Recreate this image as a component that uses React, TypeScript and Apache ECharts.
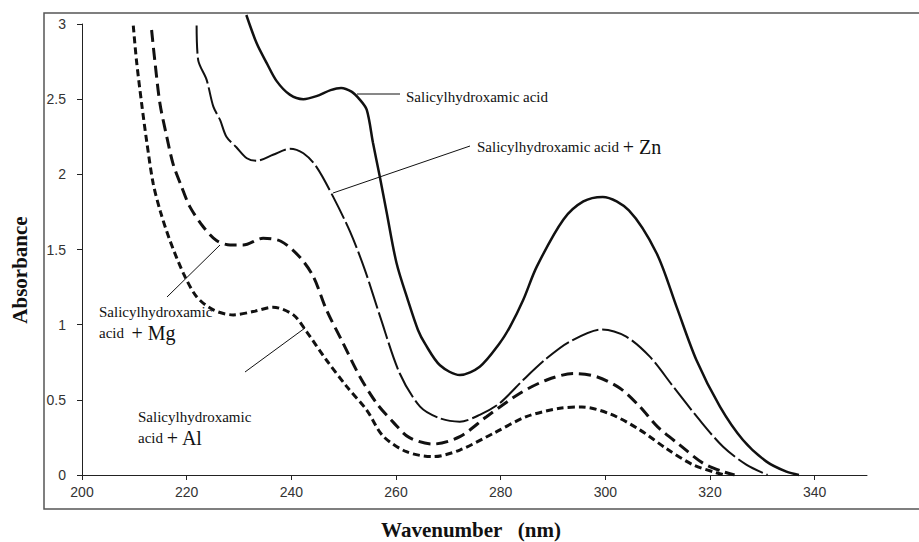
import React, { useEffect, useRef } from "react";
import * as echarts from "echarts";

// Wavelength (nm) / absorbance pairs
const acidX = [231.4, 233.4, 235.3, 237.2, 239.7, 242.3, 244.8, 247.5, 249.5, 251.5, 253.0, 254.4, 255.6, 256.9, 258.2, 260.1, 262.3, 264.2, 265.6, 268.4, 272.2, 276.0, 279.8, 281.8, 284.3, 286.9, 292.0, 295.8, 299.5, 304.5, 309.8, 313.6, 317.4, 321.9, 326.3, 330.8, 334.6, 337.0];
const acidY = [3.06, 2.87, 2.74, 2.62, 2.53, 2.50, 2.52, 2.56, 2.575, 2.55, 2.50, 2.43, 2.21, 1.985, 1.75, 1.41, 1.16, 0.965, 0.87, 0.73, 0.665, 0.72, 0.876, 0.987, 1.164, 1.386, 1.70, 1.82, 1.85, 1.76, 1.475, 1.12, 0.765, 0.455, 0.233, 0.089, 0.022, 0.0];

const znX = [221.9, 222.2, 223.8, 225.1, 226.4, 227.6, 229.5, 231.5, 233.4, 236.5, 239.7, 242.3, 244.8, 248.0, 251.2, 254.0, 257.0, 260.7, 264.6, 268.4, 272.2, 276.0, 279.8, 284.3, 288.8, 293.2, 299.3, 304.0, 308.5, 313.0, 318.0, 322.5, 327.0, 331.0];
const znY = [2.99, 2.76, 2.63, 2.45, 2.36, 2.25, 2.18, 2.107, 2.09, 2.13, 2.17, 2.14, 2.05, 1.85, 1.62, 1.37, 1.05, 0.677, 0.455, 0.377, 0.355, 0.40, 0.477, 0.632, 0.776, 0.887, 0.968, 0.92, 0.787, 0.587, 0.366, 0.188, 0.067, 0.0];

const mgX = [213.3, 213.9, 214.9, 216.2, 217.4, 219.0, 220.6, 223.2, 225.7, 228.3, 230.8, 234.6, 238.0, 241.6, 244.2, 246.7, 249.9, 253.1, 256.3, 259.5, 262.5, 267.1, 272.2, 277.3, 283.7, 288.8, 293.9, 298.3, 302.8, 306.6, 310.0, 314.2, 318.7, 322.5, 324.7];
const mgY = [2.96, 2.76, 2.47, 2.25, 2.07, 1.92, 1.785, 1.65, 1.56, 1.53, 1.53, 1.575, 1.555, 1.45, 1.32, 1.10, 0.876, 0.654, 0.477, 0.35, 0.25, 0.206, 0.255, 0.388, 0.544, 0.632, 0.675, 0.654, 0.577, 0.455, 0.32, 0.20, 0.078, 0.022, 0.0];

const alX = [209.8, 210.4, 211.4, 212.4, 213.6, 215.0, 216.8, 219.4, 221.9, 225.1, 228.9, 232.7, 236.5, 240.4, 242.9, 246.7, 250.6, 254.4, 257.5, 262.0, 267.1, 272.2, 278.6, 284.9, 291.3, 295.5, 301.0, 306.6, 311.7, 316.8, 321.2, 322.8];
const alY = [2.99, 2.76, 2.47, 2.21, 1.94, 1.75, 1.56, 1.34, 1.186, 1.098, 1.065, 1.087, 1.116, 1.065, 0.954, 0.765, 0.588, 0.432, 0.26, 0.155, 0.122, 0.166, 0.277, 0.388, 0.444, 0.452, 0.405, 0.30, 0.175, 0.067, 0.015, 0.0];

const xTicks = [200, 220, 240, 260, 280, 300, 320, 340];

const zip = (xs: number[], ys: number[]) => xs.map((x, i) => [x, ys[i]]);

export default function App() {
  const ref = useRef<HTMLDivElement>(null);
  useEffect(() => {
    if (!ref.current) return;
    const chart = echarts.init(ref.current, undefined, { renderer: "svg" });
    const serif = "'Liberation Serif', 'Times New Roman', serif";
    const labelRich = {
      s: { fontFamily: serif, fontSize: 15, fill: "#111" },
      b: { fontFamily: serif, fontSize: 20, fill: "#111" },
    };
    const line = (series: string, width: number, type: any, data: number[][], clip = true) => ({
      type: "line",
      name: series,
      data,
      showSymbol: false,
      smooth: 0.3,
      clip,
      lineStyle: { color: "#111", width, type },
      emphasis: { disabled: true },
    });
    chart.setOption({
      animation: false,
      backgroundColor: "#fff",
      grid: { left: 82, right: 52, top: 24, bottom: 67 },
      xAxis: {
        type: "value",
        min: 200,
        max: 350,
        interval: 20,
        axisLine: { lineStyle: { color: "#222", width: 1 } },
        axisTick: { show: true, length: 5, lineStyle: { color: "#222" }, customValues: xTicks },
        axisLabel: { margin: 10, fontSize: 14, color: "#333", fontFamily: "'Liberation Sans', Arial, sans-serif", customValues: xTicks },
        splitLine: { show: false },
      },
      yAxis: {
        type: "value",
        min: 0,
        max: 3,
        interval: 0.5,
        axisLine: { show: true, lineStyle: { color: "#222", width: 1 } },
        axisTick: { show: true, length: 5, lineStyle: { color: "#222" } },
        axisLabel: { margin: 16, fontSize: 14, color: "#333", fontFamily: "'Liberation Sans', Arial, sans-serif" },
        splitLine: { show: false },
      },
      series: [
        line("Salicylhydroxamic acid", 2.5, "solid", zip(acidX, acidY), false),
        line("Salicylhydroxamic acid + Zn", 2, [28, 4], zip(znX, znY)),
        line("Salicylhydroxamic acid + Mg", 3, [12, 6], zip(mgX, mgY)),
        line("Salicylhydroxamic acid + Al", 3, [7, 4], zip(alX, alY)),
      ],
      graphic: [
        { type: "rect", shape: { x: 44, y: 13, width: 900, height: 496 }, style: { fill: "none", stroke: "#555", lineWidth: 1.5 }, silent: true },
        { type: "line", shape: { x1: 357, y1: 94, x2: 400, y2: 94 }, style: { stroke: "#111", lineWidth: 1 } },
        { type: "line", shape: { x1: 333, y1: 193, x2: 470, y2: 146 }, style: { stroke: "#111", lineWidth: 1 } },
        { type: "line", shape: { x1: 167, y1: 297, x2: 220, y2: 245 }, style: { stroke: "#111", lineWidth: 1 } },
        { type: "line", shape: { x1: 245, y1: 372, x2: 305, y2: 328 }, style: { stroke: "#111", lineWidth: 1 } },
        { type: "text", x: 406, y: 97, style: { text: "Salicylhydroxamic acid", font: `15px ${serif}`, fill: "#111", verticalAlign: "middle" } },
        { type: "text", x: 477, y: 147, style: { text: "{s|Salicylhydroxamic acid }{b|+ Zn}", rich: labelRich, verticalAlign: "middle" } },
        { type: "text", x: 99, y: 312, style: { text: "Salicylhydroxamic", font: `15px ${serif}`, fill: "#111", verticalAlign: "middle" } },
        { type: "text", x: 99, y: 333, style: { text: "{s|acid  }{b|+ Mg}", rich: labelRich, verticalAlign: "middle" } },
        { type: "text", x: 138, y: 417, style: { text: "Salicylhydroxamic", font: `15px ${serif}`, fill: "#111", verticalAlign: "middle" } },
        { type: "text", x: 138, y: 438, style: { text: "{s|acid }{b|+ Al}", rich: labelRich, verticalAlign: "middle" } },
        { type: "text", x: 471, y: 530, style: { text: "Wavenumber   (nm)", font: `bold 21px ${serif}`, fill: "#111", align: "center", verticalAlign: "middle" } },
        { type: "text", x: 20, y: 270, rotation: Math.PI / 2, style: { text: "Absorbance", font: `bold 21px ${serif}`, fill: "#111", align: "center", verticalAlign: "middle" } },
      ],
    });
    return () => chart.dispose();
  }, []);
  return <div ref={ref} style={{ width: 919, height: 542, position: "absolute", left: 0, top: 0 }} />;
}
